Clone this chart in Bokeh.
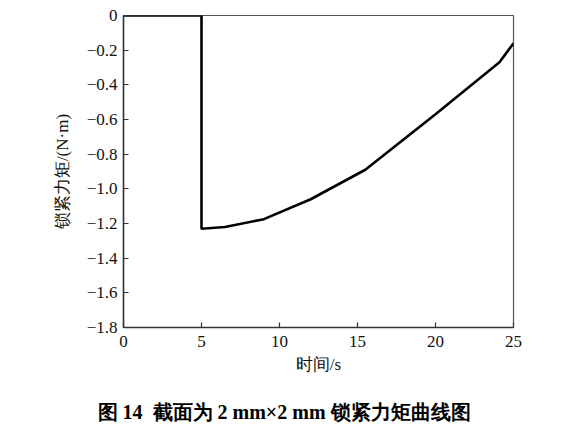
from bokeh.plotting import figure
from bokeh.models import Range1d, FixedTicker, Title
from bokeh.embed import file_html
from bokeh.resources import INLINE

# data
time_s = [0, 5, 5, 6.5, 9, 12, 15.5, 20, 24.1, 25]
torque = [0, 0, -1.23, -1.22, -1.175, -1.06, -0.89, -0.57, -0.27, -0.16]

x_ticks = [0, 5, 10, 15, 20, 25]
y_ticks = [0, -0.2, -0.4, -0.6, -0.8, -1.0, -1.2, -1.4, -1.6, -1.8]
y_tick_labels = ["0", "\u22120.2", "\u22120.4", "\u22120.6", "\u22120.8",
                 "\u22121.0", "\u22121.2", "\u22121.4", "\u22121.6", "\u22121.8"]

x_label = "时间/s"
y_label = "锁紧力矩/(N·m)"
caption = "图\u00a014\u00a0\u00a0截面为 2 mm×2 mm 锁紧力矩曲线图"

FONT = "Times New Roman"

p = figure(output_backend="svg", toolbar_location=None,
           frame_width=390, frame_height=312,
           min_border_left=123, min_border_top=15, min_border_right=40,
           min_border_bottom=110,
           x_range=Range1d(0, 25), y_range=Range1d(-1.8, 0))

p.line(time_s, torque, line_color="black", line_width=2.6)

p.xgrid.visible = False
p.ygrid.visible = False
p.background_fill_color = "white"
p.border_fill_color = "white"
p.outline_line_color = "#555555"
p.outline_line_width = 1.2

p.xaxis.axis_line_color = "#333333"
p.yaxis.axis_line_color = "#333333"
p.xaxis.axis_line_width = 1.5
p.yaxis.axis_line_width = 1.5
p.xaxis.major_tick_line_color = "#333333"
p.yaxis.major_tick_line_color = "#333333"
p.xaxis.major_tick_line_width = 1.2
p.yaxis.major_tick_line_width = 1.2
p.xaxis.major_tick_in = 5
p.yaxis.major_tick_in = 5
p.xaxis.major_tick_out = 0
p.yaxis.major_tick_out = 0
p.xaxis.minor_tick_line_color = None
p.yaxis.minor_tick_line_color = None
p.xaxis.major_label_text_font = FONT
p.yaxis.major_label_text_font = FONT
p.xaxis.major_label_text_font_size = "17px"
p.yaxis.major_label_text_font_size = "17px"
p.xaxis.major_label_text_color = "#111111"
p.yaxis.major_label_text_color = "#111111"
p.xaxis.axis_label_text_font = FONT
p.yaxis.axis_label_text_font = FONT
p.xaxis.axis_label_text_font_size = "17px"
p.yaxis.axis_label_text_font_size = "17px"
p.xaxis.axis_label_text_font_style = "normal"
p.yaxis.axis_label_text_font_style = "normal"
p.xaxis.axis_label_text_color = "#111111"
p.yaxis.axis_label_text_color = "#111111"

p.xaxis.ticker = FixedTicker(ticks=x_ticks)
p.yaxis.ticker = FixedTicker(ticks=y_ticks)
p.yaxis.major_label_overrides = {t: l for t, l in zip(y_ticks, y_tick_labels)}
p.xaxis.axis_label = x_label
p.yaxis.axis_label = y_label
p.xaxis.major_label_standoff = 8
p.xaxis.axis_label_standoff = 5
p.yaxis.major_label_standoff = 6
p.yaxis.axis_label_standoff = 12

p.add_layout(Title(text=caption, text_font=FONT, text_font_size="20px",
                   text_font_style="bold", text_color="black",
                   align="left", offset=-26, standoff=45), "below")

open("out.html", "w").write(file_html(p, INLINE))
